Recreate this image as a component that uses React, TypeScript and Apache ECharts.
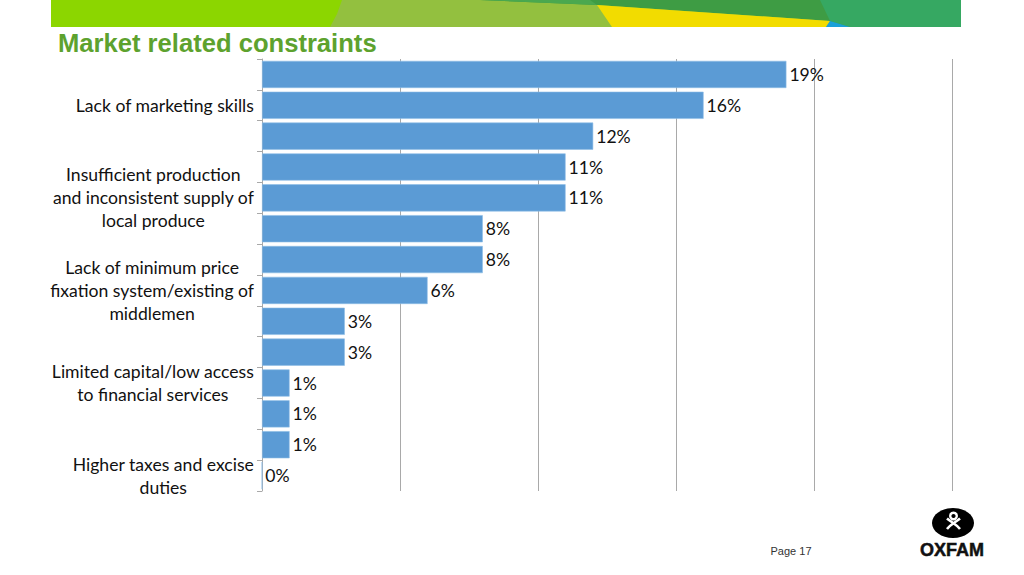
import React, { useEffect, useRef } from "react";
import * as echarts from "echarts";

// Categories listed bottom-to-top; only every third one carries a visible name.
const categories: string[] = [
  "Higher taxes and excise\nduties",
  "",
  "",
  "Limited capital/low access\nto financial services",
  "",
  "",
  "Lack of minimum price\nfixation system/existing of\nmiddlemen",
  "",
  "",
  "Insufficient production\nand inconsistent supply of\nlocal produce",
  "",
  "",
  "Lack of marketing skills",
  "",
];

// Share of respondents (%) for each category, same order as above.
const shares: number[] = [0, 1, 1, 1, 3, 3, 6, 8, 8, 11, 11, 12, 16, 19];

// Value axis range and gridline step (%).
const axisMax = 25;
const axisStep = 5;

const titleText = "Market related constraints";
const pageText = "Page 17";
const brandText = "OXFAM";

const LABEL_FONT = "Lato, 'Open Sans', sans-serif";

export default function App() {
  const ref = useRef<HTMLDivElement>(null);

  useEffect(() => {
    if (!ref.current) return;
    const chart = echarts.init(ref.current, null, { renderer: "svg" });

    const banner = [
      { type: "rect", shape: { x: 51, y: 0, width: 910, height: 27 }, style: { fill: "#8cd600" } },
      {
        type: "polygon",
        shape: { points: [[342, 0], [337, 14], [330, 27], [961, 27], [961, 0]] },
        style: { fill: "#93c03f" },
      },
      {
        type: "polygon",
        shape: { points: [[480, 0], [961, 0], [961, 27], [830, 27], [830, 21], [597, 5]] },
        style: { fill: "#3e9c44" },
      },
      {
        type: "polygon",
        shape: { points: [[480, 0], [590, 0], [597, 5]] },
        style: { fill: "#4aa84f" },
      },
      {
        type: "polygon",
        shape: { points: [[597, 5], [830, 21], [826, 27], [612, 27]] },
        style: { fill: "#f2dc00" },
      },
      {
        type: "polygon",
        shape: { points: [[820, 0], [961, 0], [961, 27], [850, 27], [830, 21]] },
        style: { fill: "#36a862" },
      },
      {
        type: "polygon",
        shape: { points: [[830, 21], [850, 27], [826, 27]] },
        style: { fill: "#1aa0d8" },
      },
    ];

    const logo = [
      { type: "ellipse", shape: { cx: 953, cy: 523, rx: 21, ry: 15 }, style: { fill: "#000" } },
      {
        type: "circle",
        shape: { cx: 953.5, cy: 516, r: 3.3 },
        style: { fill: "none", stroke: "#fff", lineWidth: 2.4 },
      },
      {
        type: "bezierCurve",
        shape: { x1: 947, y1: 518.5, x2: 960, y2: 529, cpx1: 951, cpy1: 522, cpx2: 956, cpy2: 524 },
        style: { fill: "none", stroke: "#fff", lineWidth: 2.6 },
      },
      {
        type: "bezierCurve",
        shape: { x1: 960, y1: 518.5, x2: 947, y2: 529, cpx1: 956, cpy1: 522, cpx2: 951, cpy2: 524 },
        style: { fill: "none", stroke: "#fff", lineWidth: 2.6 },
      },
      {
        type: "text",
        x: 952,
        y: 550,
        style: {
          text: brandText,
          fill: "#111",
          font: "900 18px 'Liberation Sans', Arial, sans-serif",
          align: "center",
          verticalAlign: "middle",
          stroke: "#111",
          lineWidth: 0.5,
        },
      },
      {
        type: "text",
        x: 791,
        y: 551,
        style: {
          text: pageText,
          fill: "#333",
          font: "11px 'Liberation Sans', Arial, sans-serif",
          align: "center",
          verticalAlign: "middle",
        },
      },
    ];

    chart.setOption({
      animation: false,
      backgroundColor: "#ffffff",
      title: {
        text: titleText,
        left: 58,
        top: 30,
        padding: 0,
        textStyle: {
          fontFamily: "'Liberation Sans', Arial, sans-serif",
          fontWeight: "bold",
          fontSize: 25.6,
          color: "#5da22e",
        },
      },
      graphic: [...banner, ...logo],
      grid: { left: 262, right: 72, top: 59, bottom: 84, containLabel: false },
      xAxis: {
        type: "value",
        min: 0,
        max: axisMax,
        interval: axisStep,
        axisLabel: { show: false },
        axisLine: { show: false },
        axisTick: { show: false },
        splitLine: { show: true, lineStyle: { color: "#a9a9a9", width: 1 } },
      },
      yAxis: {
        type: "category",
        data: categories,
        axisLine: { show: true, lineStyle: { color: "#a9a9a9", width: 1 } },
        axisTick: { show: true, interval: 0, length: 5, lineStyle: { color: "#a9a9a9" } },
        axisLabel: {
          interval: 0,
          margin: 8,
          align: "right",
          formatter: (v: string) =>
            v ? v.split("\n").map((l) => `{c|${l}}`).join("\n") : "",
          rich: {
            c: {
              align: "center",
              fontFamily: LABEL_FONT,
              fontSize: 17.6,
              lineHeight: 23,
              color: "#111",
            },
          },
        },
      },
      series: [
        {
          type: "bar",
          data: shares,
          barCategoryGap: "12%",
          itemStyle: { color: "#5b9bd5", borderColor: "#8fbde6", borderWidth: 0.6 },
          label: {
            show: true,
            position: "right",
            distance: 3,
            formatter: "{c}%",
            fontFamily: LABEL_FONT,
            fontSize: 17.6,
            color: "#111",
          },
        },
      ],
    });

    return () => chart.dispose();
  }, []);

  return (
    <div
      ref={ref}
      style={{ position: "fixed", left: 0, top: 0, width: 1024, height: 575, background: "#fff" }}
    />
  );
}
